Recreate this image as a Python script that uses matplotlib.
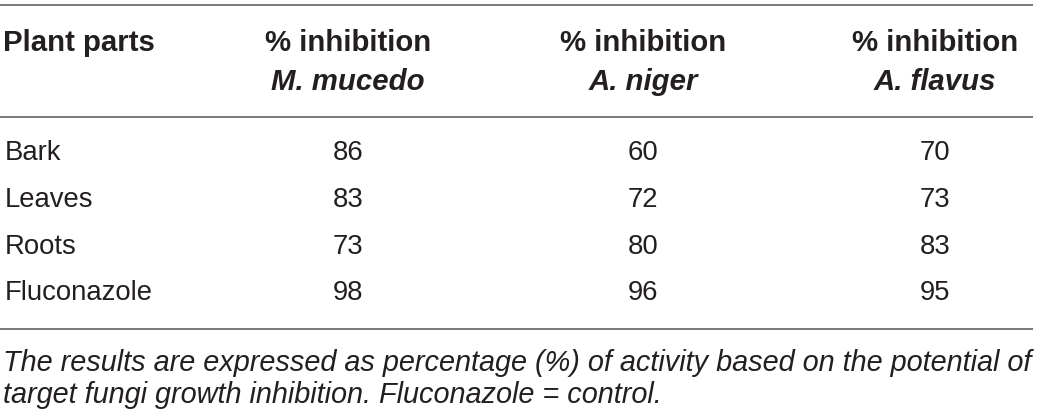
import matplotlib
matplotlib.use('Agg')
import matplotlib.pyplot as plt

plt.rcParams['font.family'] = ['Liberation Sans', 'DejaVu Sans']

# table content
parts = ['Bark', 'Leaves', 'Roots', 'Fluconazole']
fungi = ['M. mucedo', 'A. niger', 'A. flavus']
m_mucedo = [86, 83, 73, 98]
a_niger = [60, 72, 80, 96]
a_flavus = [70, 73, 83, 95]
footnote = ['The results are expressed as percentage (%) of activity based on the potential of',
            'target fungi growth inhibition. Fluconazole = control.']

W, H = 1042, 415
fig = plt.figure(figsize=(W / 100, H / 100), dpi=100)
ax = fig.add_axes([0, 0, 1, 1])
ax.set_xlim(0, W)
ax.set_ylim(H, 0)
ax.axis('off')

txt = '#231f20'
line_c = '#6d6d6d'

col_x = [348, 643, 935]
row_y = [153, 200, 247, 293]

# rules
for y in (5, 117, 329):
    ax.plot([0, 1033], [y, y], color=line_c, lw=1.3, solid_capstyle='butt')

# header
ax.text(3, 43, 'Plant parts', fontsize=21.2, fontweight='bold', color=txt,
        ha='left', va='center')
for x, name in zip(col_x, fungi):
    ax.text(x, 43, '% inhibition', fontsize=21.2, fontweight='bold', color=txt,
            ha='center', va='center')
    ax.text(x, 82, name, fontsize=21.2, fontweight='bold', style='italic',
            color=txt, ha='center', va='center')

# body
cols = [m_mucedo, a_niger, a_flavus]
for i, part in enumerate(parts):
    ax.text(5, row_y[i], part, fontsize=19.8, color=txt, ha='left', va='center')
    for x, vals in zip(col_x, cols):
        ax.text(x, row_y[i], str(vals[i]), fontsize=19.8, color=txt,
                ha='center', va='center')

# footnote
for y, line in zip((363, 395), footnote):
    ax.text(3, y, line, fontsize=20.8, style='italic', color=txt,
            ha='left', va='center')

fig.savefig('out.png', dpi=100)
